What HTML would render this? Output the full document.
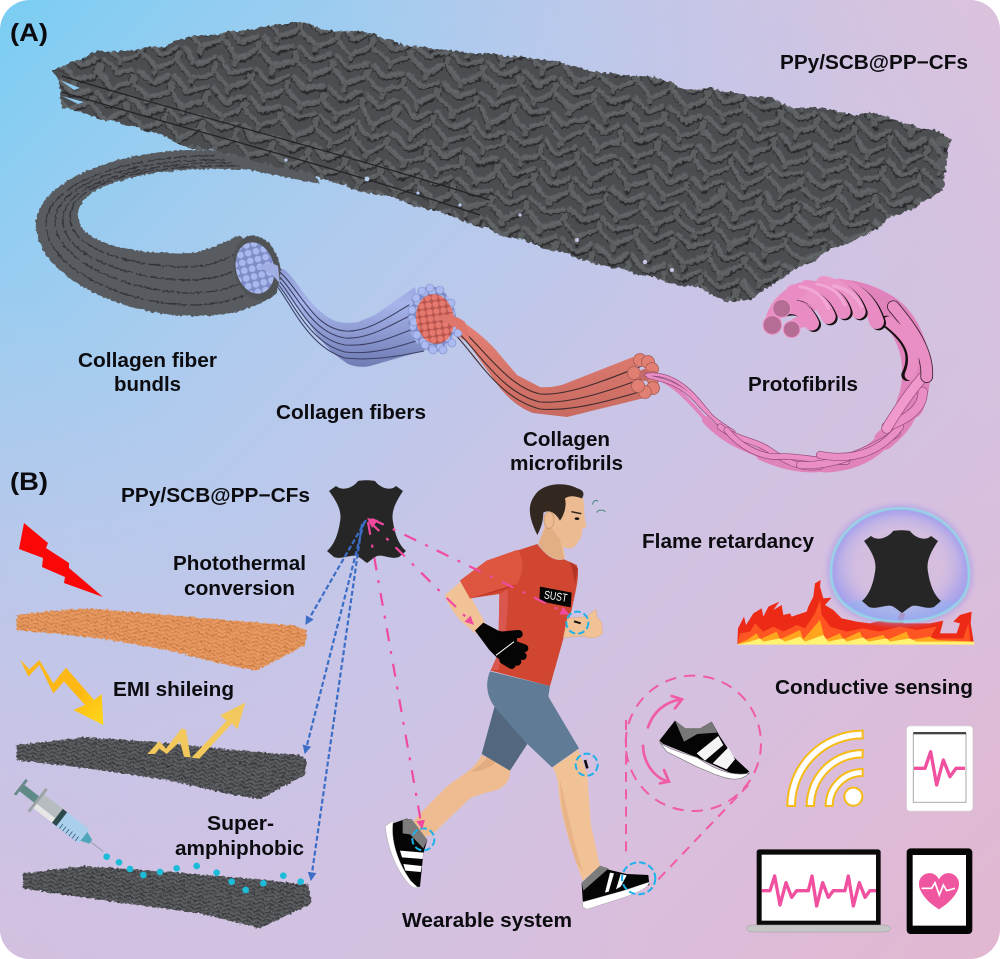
<!DOCTYPE html>
<html><head><meta charset="utf-8"><style>
html,body{margin:0;padding:0;background:#fff}
svg{display:block}
text{font-family:"Liberation Sans",sans-serif;font-weight:bold;fill:#0c0c10;font-size:20px}
</style></head><body>
<svg xmlns="http://www.w3.org/2000/svg" width="1000" height="959" viewBox="0 0 1000 959">
<defs>
<linearGradient id="bg" gradientUnits="userSpaceOnUse" x1="0" y1="0" x2="1000" y2="959">
<stop offset="0" stop-color="#7acdf3"/><stop offset=".12" stop-color="#93cdf1"/><stop offset=".3" stop-color="#b0cbee"/><stop offset=".5" stop-color="#c8c5e7"/><stop offset=".75" stop-color="#d8bfde"/><stop offset="1" stop-color="#e2b7d0"/>
</linearGradient>
<linearGradient id="bg2" gradientUnits="userSpaceOnUse" x1="0" y1="959" x2="1000" y2="0">
<stop offset="0" stop-color="#d8bede" stop-opacity=".75"/><stop offset=".35" stop-color="#d0c2e4" stop-opacity="0"/><stop offset=".65" stop-color="#d0c2e4" stop-opacity="0"/><stop offset="1" stop-color="#e0c2da" stop-opacity=".8"/>
</linearGradient>
<pattern id="w" width="44" height="36" patternUnits="userSpaceOnUse" patternTransform="rotate(14) scale(.85)">
<rect width="44" height="36" fill="#4c4e51"/>
<g fill="none" stroke-linecap="round">
<path d="M5 6L21 17M25 17L41 6M5 24L21 35M25 35L41 24M23 -2L23 6M2 14L2 20M42 14L42 20" stroke="#2b2c2e" stroke-width="6"/>
<path d="M4 4L20 15M24 15L40 4M4 22L20 33M24 33L40 22M22 -4L22 4M1 12L1 18M43 12L43 18" stroke="#5b5e61" stroke-width="6"/>
<path d="M4 3L20 14M24 14L40 3M4 21L20 32M24 32L40 21" stroke="#63666a" stroke-width="1.8"/>
</g></pattern>
<pattern id="ws" width="30" height="24" patternUnits="userSpaceOnUse" patternTransform="rotate(10)">
<rect width="30" height="24" fill="#48494c"/>
<g fill="none" stroke-linecap="round"><path d="M3 5L14 12M17 12L28 5M3 17L14 24M17 24L28 17" stroke="#2a2b2d" stroke-width="6"/>
<path d="M3 3L14 10M17 10L28 3M3 15L14 22M17 22L28 15" stroke="#5d6064" stroke-width="6"/></g></pattern>
<pattern id="wo" width="30" height="24" patternUnits="userSpaceOnUse" patternTransform="rotate(10)">
<rect width="30" height="24" fill="#dc8d54"/>
<g fill="none" stroke-linecap="round"><path d="M3 5L14 12M17 12L28 5M3 17L14 24M17 24L28 17" stroke="#bd6f38" stroke-width="6"/>
<path d="M3 3L14 10M17 10L28 3M3 15L14 22M17 22L28 15" stroke="#e89a62" stroke-width="6"/></g></pattern>
<pattern id="dots" width="8" height="8" patternUnits="userSpaceOnUse"><rect width="8" height="8" fill="#7e8cc8"/><circle cx="4" cy="4" r="3.4" fill="#a9b9ee"/></pattern>
<pattern id="dotr" width="7" height="7" patternUnits="userSpaceOnUse"><rect width="7" height="7" fill="#b8564f"/><circle cx="3.5" cy="3.5" r="3.1" fill="#e6796e"/></pattern>
<linearGradient id="yb" x1="0" y1="0" x2="1" y2="1"><stop offset="0" stop-color="#fbb81e"/><stop offset=".6" stop-color="#fdb813"/><stop offset="1" stop-color="#ffd81a"/></linearGradient>
<linearGradient id="bf" x1="0" y1="0" x2="0" y2="1"><stop offset="0" stop-color="#8c9ad4"/><stop offset=".4" stop-color="#a6b4ea"/><stop offset="1" stop-color="#6f7cb4"/></linearGradient>
<linearGradient id="rf" x1="0" y1="0" x2="0" y2="1"><stop offset="0" stop-color="#e88378"/><stop offset="1" stop-color="#c86a60"/></linearGradient>
<radialGradient id="bub" cx=".5" cy=".5" r=".52"><stop offset="0" stop-color="#cfc3e6" stop-opacity="0"/><stop offset=".6" stop-color="#b9b2ea" stop-opacity=".12"/><stop offset=".88" stop-color="#9d9cf0" stop-opacity=".6"/><stop offset="1" stop-color="#9d9cf0" stop-opacity=".8"/></radialGradient>
<filter id="gl" x="-20%" y="-20%" width="140%" height="140%"><feGaussianBlur stdDeviation="2"/></filter>
<filter id="bl" x="-20%" y="-20%" width="140%" height="140%"><feGaussianBlur stdDeviation="8"/></filter>
<filter id="rough" x="-5%" y="-5%" width="110%" height="110%">
<feTurbulence type="fractalNoise" baseFrequency=".035" numOctaves="2" seed="3" result="n1"/>
<feDisplacementMap in="SourceGraphic" in2="n1" scale="10" xChannelSelector="R" yChannelSelector="G" result="d"/>
<feTurbulence type="fractalNoise" baseFrequency=".3" numOctaves="1" seed="7" result="n2"/>
<feDisplacementMap in="d" in2="n2" scale="5" xChannelSelector="G" yChannelSelector="R"/>
</filter>
<filter id="rough2" x="-5%" y="-5%" width="110%" height="110%">
<feTurbulence type="fractalNoise" baseFrequency=".35" numOctaves="1" seed="4" result="n2"/>
<feDisplacementMap in="SourceGraphic" in2="n2" scale="4" xChannelSelector="G" yChannelSelector="R"/>
</filter>
<filter id="roughS" x="-5%" y="-5%" width="110%" height="110%">
<feTurbulence type="fractalNoise" baseFrequency=".12" numOctaves="2" seed="5" result="n2"/>
<feDisplacementMap in="SourceGraphic" in2="n2" scale="12" xChannelSelector="G" yChannelSelector="R"/>
</filter>
<path id="hide" d="M893 531C898 530 905 530 910 531C914 537 925 542 931 536L938 541C930 553 926 562 928 572C930 585 934 595 941 601L934 607C926 610 918 604 912 606C908 608 905 611 902 613C899 611 896 608 892 606C886 604 876 610 869 607L862 601C869 595 873 585 875 572C877 562 873 553 864 541L871 536C878 542 889 537 893 531Z" fill="#262626"/>
<marker id="ab" markerWidth="5" markerHeight="5" refX="3.5" refY="2" orient="auto" markerUnits="strokeWidth"><path d="M0 0L4 2L0 4Z" fill="#3c6ec6"/></marker>
<marker id="ap" markerWidth="5" markerHeight="5" refX="3.5" refY="2" orient="auto" markerUnits="strokeWidth"><path d="M0 0L4 2L0 4Z" fill="#f04aa0"/></marker>
</defs>
<rect x="0" y="0" width="1000" height="959" rx="30" fill="url(#bg)"/>
<rect x="0" y="0" width="1000" height="959" rx="30" fill="url(#bg2)"/>

<!-- PANEL A: bundle tube -->
<g filter="url(#rough2)">
<path d="M195 150C120 150 36 180 36 225C36 275 120 315 190 316C225 317 255 310 278 292L240 235C225 242 210 250 190 253C140 255 78 245 78 215C78 175 190 165 250 170L320 184L300 150Z" fill="#595c60"/>
<g fill="none" stroke="#34363a" stroke-width="1.3" stroke-dasharray="26 3 12 2">
<path d="M215 156C140 154 46 180 46 224C46 268 124 304 190 305C220 305 245 298 270 283"/>
<path d="M225 160C150 158 55 178 55 222C55 262 130 292 190 293C218 293 242 286 264 270"/>
<path d="M232 163C160 161 63 178 63 220C63 258 135 280 190 280C215 280 238 272 256 258"/>
<path d="M240 166C170 164 70 176 70 218C70 250 138 268 190 267C212 266 232 258 248 246"/>
</g></g>
<!-- main fabric -->
<path filter="url(#rough)" d="M55 70L72 62L100 52L130 48L165 45L190 38L230 33L295 22L330 30L360 32L400 42L440 48L500 55L530 58L567 65L613 72L660 80L687 90L713 88L767 97L793 107L820 107L853 115L880 115L927 130L950 140L945 158L946 172L943 190L867 233L800 267L753 297L727 300L657 277L600 263L550 250L500 233L450 215L400 200L340 185L300 172L250 160L195 148L120 122L62 108L60 88Z" fill="url(#w)"/>
<g fill="none" stroke="#232426" stroke-width="1.3">
<path d="M62 76C180 112 330 150 490 200"/>
<path d="M62 92C180 128 320 162 480 215"/>
</g>
<g fill="#8fcbf0"><path d="M60 80L80 88L74 90ZM62 96L84 102L78 104Z"/></g>
<g fill="#5a5d60"><circle cx="941" cy="141" r="5"/><circle cx="942" cy="162" r="5"/><circle cx="940" cy="184" r="5"/></g>
<g fill="#b8cbef"><circle cx="286" cy="160" r="1.6"/><circle cx="367" cy="179" r="2.4"/><circle cx="418" cy="193" r="1.6"/><circle cx="460" cy="205" r="1.6"/></g>
<g fill="#c9c4e6"><circle cx="520" cy="215" r="1.6"/><circle cx="577" cy="240" r="2"/><circle cx="645" cy="262" r="2.2"/><circle cx="672" cy="270" r="2"/></g>

<!-- blue fibers -->
<path d="M265 262L285 270C297 280 305 300 325 315C335 323 345 324 358 322L375 315L415 287L426 350L370 366C360 368 350 366 345 362C330 352 320 340 310 325L295 305L278 285Z" fill="url(#bf)"/>
<g fill="none" stroke="#3d4066" stroke-width="1.1">
<path d="M272 266C298 282 310 328 345 331C370 333 395 312 418 300"/>
<path d="M272 270C296 288 308 332 345 338C370 340 395 322 418 312"/>
<path d="M272 274C294 292 306 338 345 345C372 347 395 336 420 326"/>
<path d="M272 278C292 296 306 342 345 352C372 355 398 347 422 339"/>
<path d="M273 281C290 300 306 346 345 358C372 361 400 356 424 351"/>
</g>
<!-- end cap 1 -->
<ellipse cx="257" cy="268" rx="23" ry="33" transform="rotate(-14 257 268)" fill="#4f5255" filter="url(#rough2)"/>
<ellipse cx="255" cy="268" rx="19" ry="26" transform="rotate(-14 255 268)" fill="url(#dots)"/>
<path d="M258 268C264 262 272 262 278 266L280 284C272 272 264 270 258 268Z" fill="#a0aee4"/>

<!-- red fibers -->
<path d="M437 315L460 320C475 330 490 342 500 355L517 375L540 387C550 388 560 386 567 383L633 357L648 397L567 417L533 413C520 408 510 400 500 388L467 342L440 325Z" fill="url(#rf)"/>
<g fill="none" stroke="#402c2e" stroke-width="1.1">
<path d="M444 318C472 328 500 385 540 394C570 396 610 378 642 366"/>
<path d="M444 322C470 334 495 392 540 402C572 404 612 390 644 378"/>
<path d="M444 326C468 338 490 396 540 409C572 412 612 400 646 390"/>
</g>
<!-- cap 2 -->
<ellipse cx="432" cy="319" rx="24" ry="33" transform="rotate(-8 432 319)" fill="url(#dots)"/>
<g fill="#abbaf0" stroke="#7e8cc8" stroke-width=".6"><circle cx="430" cy="288" r="4"/><circle cx="422" cy="291" r="4"/><circle cx="416" cy="298" r="4"/><circle cx="412" cy="310" r="4"/><circle cx="414" cy="322" r="4"/><circle cx="417" cy="335" r="4"/><circle cx="425" cy="345" r="4"/><circle cx="433" cy="350" r="4"/><circle cx="443" cy="350" r="4"/><circle cx="452" cy="343" r="4"/><circle cx="458" cy="333" r="4"/><circle cx="451" cy="303" r="4"/><circle cx="440" cy="290" r="4"/></g>
<ellipse cx="435" cy="319" rx="19" ry="25" transform="rotate(-8 435 319)" fill="url(#dotr)"/>
<path d="M435 318C445 312 455 315 465 322L470 340C460 328 448 322 435 318Z" fill="#df766c"/>

<!-- cap 3 -->
<g fill="#e07f72" stroke="#a85b55" stroke-width=".8"><circle cx="640" cy="360" r="6.5"/><circle cx="648" cy="362" r="6.5"/><circle cx="652" cy="369" r="6.5"/><circle cx="653" cy="378" r="6.5"/><circle cx="653" cy="388" r="6.5"/><circle cx="645" cy="392" r="6.5"/><circle cx="638" cy="386" r="6.5"/><circle cx="634" cy="373" r="6.5"/></g>
<circle cx="645" cy="375" r="6" fill="#c56a68"/>

<!-- protofibril base band -->
<g fill="none" stroke="#e083bc" stroke-linecap="round">
<path d="M650 376C672 380 690 402 706 420" stroke-width="4"/>
<path d="M706 420C722 438 740 446 762 454" stroke-width="8"/>
<path d="M762 454C785 464 805 468 825 465" stroke-width="13"/>
<path d="M825 465C850 464 870 455 884 440" stroke-width="15"/>
<path d="M884 440C898 428 905 420 910 405" stroke-width="20"/>
<path d="M910 405C918 385 918 365 912 345" stroke-width="28"/>
<path d="M912 345C905 325 895 312 878 304" stroke-width="28"/>
<path d="M878 304C855 292 830 290 808 298" stroke-width="28"/>
</g>
<!-- protofibril rope (zoom coords: origin 500,0 scale 3) -->
<g transform="translate(500 0) scale(.33333)" fill="none" stroke-linecap="round">
<g stroke="#8f4a78"><path d="M440 1125C480 1118 530 1135 575 1180C610 1215 630 1250 670 1285" stroke-width="12"/><path d="M445 1130C490 1140 540 1150 590 1205C620 1240 650 1265 700 1295" stroke-width="12"/></g>
<g stroke="#ea8fc6"><path d="M440 1125C480 1118 530 1135 575 1180C610 1215 630 1250 670 1285" stroke-width="8"/><path d="M445 1130C490 1140 540 1150 590 1205C620 1240 650 1265 700 1295" stroke-width="8"/></g>
<path d="M660 1280C710 1320 760 1320 800 1345C850 1380 900 1410 960 1400" stroke="#8f4a78" stroke-width="19"/><path d="M660 1280C710 1320 760 1320 800 1345C850 1380 900 1410 960 1400" stroke="#ea8fc6" stroke-width="15"/>
<path d="M680 1290C720 1340 780 1370 830 1370C880 1365 960 1385 1040 1385" stroke="#8f4a78" stroke-width="19"/><path d="M680 1290C720 1340 780 1370 830 1370C880 1365 960 1385 1040 1385" stroke="#ea8fc6" stroke-width="15"/>
<path d="M900 1395C980 1400 1080 1370 1190 1300" stroke="#8f4a78" stroke-width="24"/><path d="M900 1395C980 1400 1080 1370 1190 1300" stroke="#ea8fc6" stroke-width="20"/>
<path d="M960 1365C1040 1380 1130 1370 1200 1280" stroke="#8f4a78" stroke-width="24"/><path d="M960 1365C1040 1380 1130 1370 1200 1280" stroke="#ea8fc6" stroke-width="20"/>
<path d="M1160 1280Q1270 1240 1268 1175" stroke="#8f4a78" stroke-width="30"/><path d="M1160 1280Q1270 1240 1268 1175" stroke="#ea8fc6" stroke-width="26"/>
<path d="M1160 1285Q1230 1170 1280 1120" stroke="#8f4a78" stroke-width="32"/><path d="M1160 1285Q1230 1170 1280 1120" stroke="#ef99cd" stroke-width="28"/>
<path d="M1280 1130C1285 1060 1240 990 1180 920" stroke="#3a2030" stroke-width="38"/><path d="M1280 1130C1285 1060 1240 990 1180 920" stroke="#ea8fc6" stroke-width="33"/>
<path d="M1222 1125C1255 1060 1220 1010 1160 965" stroke="#1a1014" stroke-width="36"/><path d="M1230 1125C1258 1060 1226 1010 1166 965" stroke="#e98ec4" stroke-width="32"/>
<g stroke-width="44">
<path d="M1130 965Q1100 875 1020 858" stroke="#151012" transform="translate(6 4)"/><path d="M1130 965Q1100 875 1020 858" stroke="#e88cc3"/>
<path d="M1075 935Q1050 865 970 850" stroke="#151012" transform="translate(6 4)"/><path d="M1075 935Q1050 865 970 850" stroke="#ec93c8"/>
<path d="M1030 935Q1010 870 920 862" stroke="#151012" transform="translate(6 4)"/><path d="M1030 935Q1010 870 920 862" stroke="#e88cc3"/>
<path d="M985 950Q960 885 880 875" stroke="#151012" transform="translate(6 4)"/><path d="M985 950Q960 885 880 875" stroke="#ec93c8"/>
<path d="M935 970Q905 905 845 925" stroke="#151012" transform="translate(6 4)"/><path d="M935 970Q905 905 845 925" stroke="#e88cc3"/>
<path d="M815 975Q825 905 900 870" stroke="#e88cc3"/>
<path d="M875 988Q885 960 930 965" stroke="#e88cc3" stroke-width="34"/>
</g>
<g stroke="#f4aed9" stroke-width="9" opacity=".8"><path d="M1000 858Q1060 868 1085 920"/><path d="M950 852Q1010 860 1035 915"/><path d="M900 860Q960 868 985 925"/></g>
<g fill="#b56d95" stroke="#ee99cb" stroke-width="3"><circle cx="845" cy="925" r="27"/><circle cx="817" cy="975" r="28"/><circle cx="875" cy="988" r="25"/></g>
</g>

<!-- PANEL B fabrics -->
<g transform="translate(0 480) scale(.33333)">
<path filter="url(#roughS)" d="M50 405L130 395L270 385L500 405L800 430L880 435L920 450L915 495L770 572L700 560L500 510L300 475L50 450Z" fill="url(#wo)"/>
<path filter="url(#roughS)" d="M50 795L250 772L450 785L700 810L900 825L918 840L915 885L780 957L700 945L500 900L300 870L50 840Z" fill="url(#ws)"/>
<path filter="url(#roughS)" d="M70 1180L250 1158L500 1175L800 1200L925 1215L935 1270L780 1345L600 1300L300 1260L70 1225Z" fill="url(#ws)"/>
<!-- yellow arrow -->
<path d="M60 538L88 568L118 540L160 610L198 563L282 660L305 642L310 735L220 690L255 675L192 605L160 640L118 555L85 590Z" fill="url(#yb)"/>
<!-- reflected -->
<path d="M442 822L478 783L498 806L545 745L558 750L572 836L680 722L660 706L736 668L712 748L696 730L598 836L552 830L540 785L500 822L478 806L465 822Z" fill="#f2c85c"/>
<!-- syringe -->
<g transform="translate(310 1115) rotate(218) scale(1.2)" >
<rect x="0" y="-1" width="50" height="2" fill="#8c9aa2"/>
<path d="M40 -6L62 -14L62 14L40 6Z" fill="#4ea6b8"/>
<rect x="62" y="-22" width="70" height="44" fill="#aacfec"/>
<g stroke="#3b5a78" stroke-width="2"><path d="M72 -22V-8M82 -22V-8M92 -22V-8M102 -22V-8M112 -22V-8M122 -22V-8"/></g>
<rect x="132" y="-22" width="14" height="44" fill="#2f4a4c"/>
<rect x="146" y="-22" width="62" height="44" fill="#b6bcc0"/>
<rect x="146" y="-22" width="62" height="14" fill="#e6e6e6"/>
<rect x="205" y="-36" width="7" height="72" fill="#9aa2a4"/>
<rect x="212" y="-10" width="50" height="20" fill="#5f8a88"/>
<rect x="258" y="-24" width="7" height="48" fill="#6a8a8a"/>
</g>
<g fill="#1cbcd8"><circle cx="320" cy="1130" r="10"/><circle cx="357" cy="1147" r="10"/><circle cx="390" cy="1167" r="10"/><circle cx="430" cy="1185" r="10"/><circle cx="480" cy="1176" r="10"/><circle cx="530" cy="1165" r="10"/><circle cx="590" cy="1158" r="10"/><circle cx="650" cy="1178" r="10"/><circle cx="695" cy="1205" r="10"/><circle cx="737" cy="1230" r="10"/><circle cx="790" cy="1210" r="10"/><circle cx="850" cy="1187" r="10"/><circle cx="902" cy="1205" r="10"/></g>
</g>
<!-- red bolt -->
<path d="M24 523L48 543L46 548L69 563L69 568L103 597L64 583L65 577L42 567L43 558L19 549Z" fill="#fb0707"/>

<!-- small hide -->
<use href="#hide" transform="translate(-535 -50)"/>

<!-- runner (zoom coords: origin 370,470, scale 3) -->
<g transform="translate(370 470) scale(.33333)">
<!-- back leg -->
<path d="M335 855L420 900C422 925 410 945 385 958C350 968 320 975 300 985L190 1090L155 1105L125 1060C160 1020 190 990 230 950C265 920 310 905 335 855Z" fill="#eebc90"/>
<path d="M300 905C320 895 340 880 352 860L380 875C360 895 330 905 300 905Z" fill="#e2ac80"/>
<!-- back shoe -->
<path d="M46 1068L110 1046L125 1050L172 1110L160 1150L150 1250L130 1252L90 1200Z" fill="#050505"/>
<path d="M46 1068L70 1052C60 1110 85 1180 122 1232L145 1254L130 1253C85 1220 50 1130 46 1068Z" fill="#fff" stroke="#888" stroke-width="1"/>
<path d="M98 1048L125 1047L172 1110L160 1135L120 1093L98 1090Z" fill="#7c7c7c"/>
<path d="M90 1142L160 1148L158 1167L96 1162ZM100 1182L155 1188L152 1206L106 1202Z" fill="#fff"/>
<!-- front leg -->
<path d="M548 892L625 838L652 915L662 1060L690 1190L638 1232C620 1180 590 1100 570 1000C565 950 565 920 548 892Z" fill="#f2c297"/>
<path d="M570 930C585 980 600 1080 640 1210L620 1180C590 1100 570 1000 570 930Z" fill="#e8b387"/>
<!-- front shoe -->
<path d="M635 1240L690 1190L720 1200L770 1212L835 1215L838 1245L790 1265L645 1315L638 1290Z" fill="#050505"/>
<path d="M638 1296L760 1262L838 1236C835 1255 800 1268 760 1283L650 1318L638 1310Z" fill="#fff" stroke="#888" stroke-width="1"/>
<path d="M635 1238L690 1187L716 1195L640 1262Z" fill="#7c7c7c"/>
<path d="M705 1268L720 1208L732 1210L716 1265ZM738 1258L752 1212L770 1216L752 1250Z" fill="#fff"/>
<!-- shorts -->
<path d="M375 705L472 822L420 902L335 852Z" fill="#53687e"/>
<path d="M360 604L540 648L535 680L627 835L546 892L470 820L375 712C350 680 345 640 360 604Z" fill="#5f7b96"/>
<!-- back arm -->
<path d="M225 375L272 335L305 385L345 458L316 490L270 450C250 425 230 400 225 375Z" fill="#f2c297"/>
<!-- shirt -->
<path d="M270 332L350 272L502 222C530 260 555 275 582 268L620 285C630 310 620 350 605 420L590 470L572 535L540 648L362 602L385 550L388 372L300 385Z" fill="#d04630"/>
<path d="M270 332L350 272L440 240C465 255 460 320 438 345L300 385Z" fill="#de5540"/>
<path d="M300 385L438 343C420 355 360 370 310 383Z" fill="#b13022"/>
<path d="M388 372L412 358C418 420 405 520 385 600L362 600L385 550Z" fill="#d9574e"/>
<path d="M600 275L624 295L615 340C610 310 605 290 600 275Z" fill="#b23526"/>
<!-- front forearm & hand -->
<path d="M580 503L592 445L650 440L664 428L678 418L680 440L695 458L698 490L680 503L655 503L640 498Z" fill="#f2c297" stroke="#d8a880" stroke-width="1.5"/>
<!-- glove -->
<path d="M315 482L340 458L385 482L440 495L445 560L425 595L380 562L358 540Z" fill="#050505"/>
<g stroke="#050505" stroke-width="24" stroke-linecap="round"><path d="M400 496L446 492M420 520L463 535M415 540L458 558M410 558L442 575M400 570L425 585"/></g>
<path d="M378 556L432 515" stroke="#fff" stroke-width="3" fill="none"/>
<!-- neck+face -->
<path d="M505 220C515 195 525 170 530 140L560 70C590 62 620 72 640 85C645 120 640 140 650 170L635 178C640 190 632 205 625 215C612 240 590 238 580 230L585 265C560 280 520 250 505 220Z" fill="#ecbb92"/>
<path d="M505 220C515 195 530 170 535 160L570 210L582 265C555 275 520 250 505 220Z" fill="#e2ae84"/>
<!-- hair -->
<path d="M502 195C480 150 468 110 495 75C520 38 585 35 622 55C640 60 645 70 636 85C615 78 600 75 585 85C590 105 585 130 570 152C555 125 535 118 520 128C520 150 515 170 502 195Z" fill="#32281f"/>
<ellipse cx="537" cy="150" rx="15" ry="25" fill="#ecbb92" stroke="#c4946c" stroke-width="2"/>
<ellipse cx="621" cy="146" rx="7" ry="4" fill="#111"/>
<path d="M604 125L634 131" stroke="#2a211a" stroke-width="4" fill="none"/>
<path d="M668 104C668 92 680 88 684 94" stroke="#4a8a80" stroke-width="3" fill="none"/>
<path d="M680 128C684 118 702 118 706 126" stroke="#4a8a80" stroke-width="3" fill="none"/>
<!-- SUST -->
<path d="M510 350L605 368L602 412L508 393Z" fill="#050505"/>
<text x="522" y="390" transform="rotate(9 555 380)" style="font-size:34px;font-weight:normal;fill:#fff" textLength="70" lengthAdjust="spacingAndGlyphs">SUST</text>
<!-- sensors -->
<path d="M612 454L632 460" stroke="#111" stroke-width="6"/>
<path d="M645 870L652 895" stroke="#111" stroke-width="8"/>
<g fill="none" stroke="#1eb1ea" stroke-width="6" stroke-dasharray="20 9"><circle cx="622" cy="458" r="33"/><circle cx="650" cy="884" r="33"/><circle cx="160" cy="1108" r="33"/><ellipse cx="806" cy="1225" rx="50" ry="48"/></g>
</g>

<!-- connectors -->
<g fill="none" stroke="#3c6ec6" stroke-width="2.2" stroke-dasharray="5 2.5">
<path d="M366 520L306 624" marker-end="url(#ab)"/>
<path d="M364 522L305 753" marker-end="url(#ab)"/>
<path d="M362 524L311 880" marker-end="url(#ab)"/>
</g>
<g fill="none" stroke="#f04aa0" stroke-width="2.2" stroke-dasharray="13 10 3 10">
<path d="M370 522L473 624" marker-end="url(#ap)"/>
<path d="M372 519L568 614" marker-end="url(#ap)"/>
<path d="M368 522L422 828" marker-end="url(#ap)"/>
</g>
<path d="M367 518L378 520L372 528Z" fill="#f04aa0"/>

<!-- zoom 4 items -->
<g transform="translate(500 480) scale(.33333)">
<!-- pop-out -->
<g fill="none" stroke="#ef5ba6" stroke-width="6">
<circle cx="580" cy="790" r="203" stroke-dasharray="34 24"/>
<path d="M378 720V1135M475 1198L745 915" stroke-dasharray="30 22"/>
</g>
<g fill="none" stroke="#ef5ba6" stroke-width="8" stroke-linecap="round">
<path d="M444 742C460 695 495 665 545 658M515 648L546 658L525 685"/>
<path d="M429 797C430 840 455 890 505 905M480 910L507 905L492 870"/>
</g>
<!-- big shoe -->
<path d="M478 782L525 722L556 745L600 745L635 725L660 770L700 830L748 875L720 892L590 832L490 792Z" fill="#050505"/>
<path d="M478 785C490 800 530 815 590 832C640 865 690 890 748 880C720 905 690 900 650 885L590 860L500 815Z" fill="#fff" stroke="#777" stroke-width="2"/>
<path d="M525 722L556 745L600 745L635 725L652 758L592 762L552 785Z" fill="#777"/>
<path d="M590 820L655 768L670 795L615 842ZM638 850L685 802L705 838L680 868Z" fill="#f4f4f4"/>
<!-- wifi -->
<g fill="#fff" stroke="#f6bb16" stroke-width="6">
<path d="M1088 752A226 226 0 0 0 862 978H885A203 203 0 0 1 1088 775Z"/>
<path d="M1088 810A168 168 0 0 0 920 978H942A146 146 0 0 1 1088 832Z"/>
<path d="M1088 867A111 111 0 0 0 977 978H998A90 90 0 0 1 1088 888Z"/>
<circle cx="1060" cy="950" r="27"/>
</g>
<!-- tablet white -->
<rect x="1220" y="738" width="198" height="255" rx="10" fill="#fff" stroke="#ddd" stroke-width="2"/>
<rect x="1240" y="760" width="158" height="207" fill="#fff" stroke="#aaa" stroke-width="3"/>
<rect x="1240" y="756" width="158" height="7" fill="#444"/>
<polyline points="1242,865 1275,865 1292,815 1310,915 1330,840 1350,890 1368,865 1395,865" fill="none" stroke="#f0509f" stroke-width="10" stroke-linejoin="round"/>
<!-- laptop -->
<rect x="770" y="1108" width="372" height="232" rx="8" fill="#0a0a0a"/>
<rect x="785" y="1124" width="343" height="198" fill="#fff"/>
<path d="M740 1345Q742 1335 760 1335H1152Q1170 1335 1172 1345Q1170 1356 1150 1356H760Q742 1356 740 1345Z" fill="#c6c6c6" stroke="#999" stroke-width="1.5"/>
<polyline points="785,1232 810,1232 824,1188 840,1275 858,1208 875,1252 890,1232 925,1232 936,1188 950,1278 968,1208 985,1252 1000,1232 1035,1232 1045,1188 1060,1278 1078,1208 1095,1252 1110,1232 1128,1232" fill="none" stroke="#f0509f" stroke-width="10" stroke-linejoin="round"/>
<!-- tablet black -->
<rect x="1220" y="1105" width="197" height="257" rx="12" fill="#050505"/>
<rect x="1238" y="1125" width="160" height="212" fill="#fff"/>
<path d="M1317 1288C1280 1265 1256 1235 1257 1210C1258 1180 1300 1165 1317 1198C1334 1165 1376 1180 1377 1210C1378 1235 1354 1265 1317 1288Z" fill="#f0559f"/>
<polyline points="1265,1225 1295,1225 1305,1208 1318,1245 1330,1215 1340,1232 1365,1225" fill="none" stroke="#fff" stroke-width="5"/>
</g>

<!-- flames + bubble (zoom coords: origin 730,500, scale 3) -->
<g transform="translate(730 500) scale(.33333)">
<path d="M22 432L24 385L42 350L48 375L70 340L95 325L100 350L115 320L148 305L130 330L155 315L160 345L180 340L185 350L230 335L235 320L250 290L255 250L272 240L270 260L280 295L305 293L285 315L310 330L335 355L380 365L420 370L460 360L500 365L510 340L525 340L520 370L600 370L640 362L630 400L680 400L690 370L670 365L690 345L725 335L722 370L732 432Z" fill="#ec2a16"/>
<path d="M22 432L30 400L60 395L75 370L100 395L130 380L160 395L200 375L225 385L255 340L270 300L275 345L300 380L350 395L400 385L450 395L510 380L560 390L620 380L600 415L700 415L715 370L722 432Z" fill="#ff5522"/>
<path d="M22 432L50 420L80 400L90 418L140 395L150 418L210 390L220 418L270 360L285 420L330 400L340 418L390 395L400 420L460 405L470 420L530 395L540 420L600 410L620 420L730 425L732 432Z" fill="#ffa51e"/>
<path d="M22 434L60 425L90 415L100 425L150 415L165 425L210 410L225 425L280 405L295 425L340 415L350 425L400 412L415 425L470 415L480 425L540 415L560 425L732 425L732 434Z" fill="#fff270"/>
<path d="M303 215C303 110 395 25 510 25C625 25 717 110 717 225C717 320 620 365 510 365C400 365 303 320 303 215Z" fill="none" stroke="#9a90ea" stroke-width="22" opacity=".5" filter="url(#bl)"/>
<path d="M303 215C303 110 395 25 510 25C625 25 717 110 717 225C717 320 620 365 510 365C400 365 303 320 303 215Z" fill="url(#bub)"/>
<path d="M345 310C400 290 620 290 680 310C640 350 580 365 510 365C440 365 385 350 345 310Z" fill="#8fb4f0" opacity=".5" filter="url(#gl)"/>
<path d="M303 215C303 110 395 25 510 25C625 25 717 110 717 225C717 320 620 365 510 365C400 365 303 320 303 215Z" fill="none" stroke="#8fe0e6" stroke-width="6" filter="url(#gl)"/>
</g>
<use href="#hide"/>

<!-- labels -->
<text x="10" y="41" style="font-size:25px" textLength="38" lengthAdjust="spacingAndGlyphs">(A)</text>
<text x="780" y="69" textLength="188" lengthAdjust="spacingAndGlyphs">PPy/SCB@PP−CFs</text>
<text x="78" y="367" textLength="139" lengthAdjust="spacingAndGlyphs">Collagen fiber</text>
<text x="114" y="391" textLength="67" lengthAdjust="spacingAndGlyphs">bundls</text>
<text x="276" y="419" textLength="150" lengthAdjust="spacingAndGlyphs">Collagen fibers</text>
<text x="748" y="391" textLength="110" lengthAdjust="spacingAndGlyphs">Protofibrils</text>
<text x="523" y="446" textLength="87" lengthAdjust="spacingAndGlyphs">Collagen</text>
<text x="510" y="470" textLength="113" lengthAdjust="spacingAndGlyphs">microfibrils</text>
<text x="10" y="490" style="font-size:25px" textLength="38" lengthAdjust="spacingAndGlyphs">(B)</text>
<text x="121" y="502" textLength="189" lengthAdjust="spacingAndGlyphs">PPy/SCB@PP−CFs</text>
<text x="173" y="570" textLength="133" lengthAdjust="spacingAndGlyphs">Photothermal</text>
<text x="184" y="595" textLength="111" lengthAdjust="spacingAndGlyphs">conversion</text>
<text x="113" y="696" textLength="121" lengthAdjust="spacingAndGlyphs">EMI shileing</text>
<text x="207" y="830" textLength="67" lengthAdjust="spacingAndGlyphs">Super-</text>
<text x="175" y="855" textLength="129" lengthAdjust="spacingAndGlyphs">amphiphobic</text>
<text x="402" y="927" textLength="170" lengthAdjust="spacingAndGlyphs">Wearable system</text>
<text x="642" y="548" textLength="172" lengthAdjust="spacingAndGlyphs">Flame retardancy</text>
<text x="775" y="694" textLength="198" lengthAdjust="spacingAndGlyphs">Conductive sensing</text>
</svg>
</body></html>
